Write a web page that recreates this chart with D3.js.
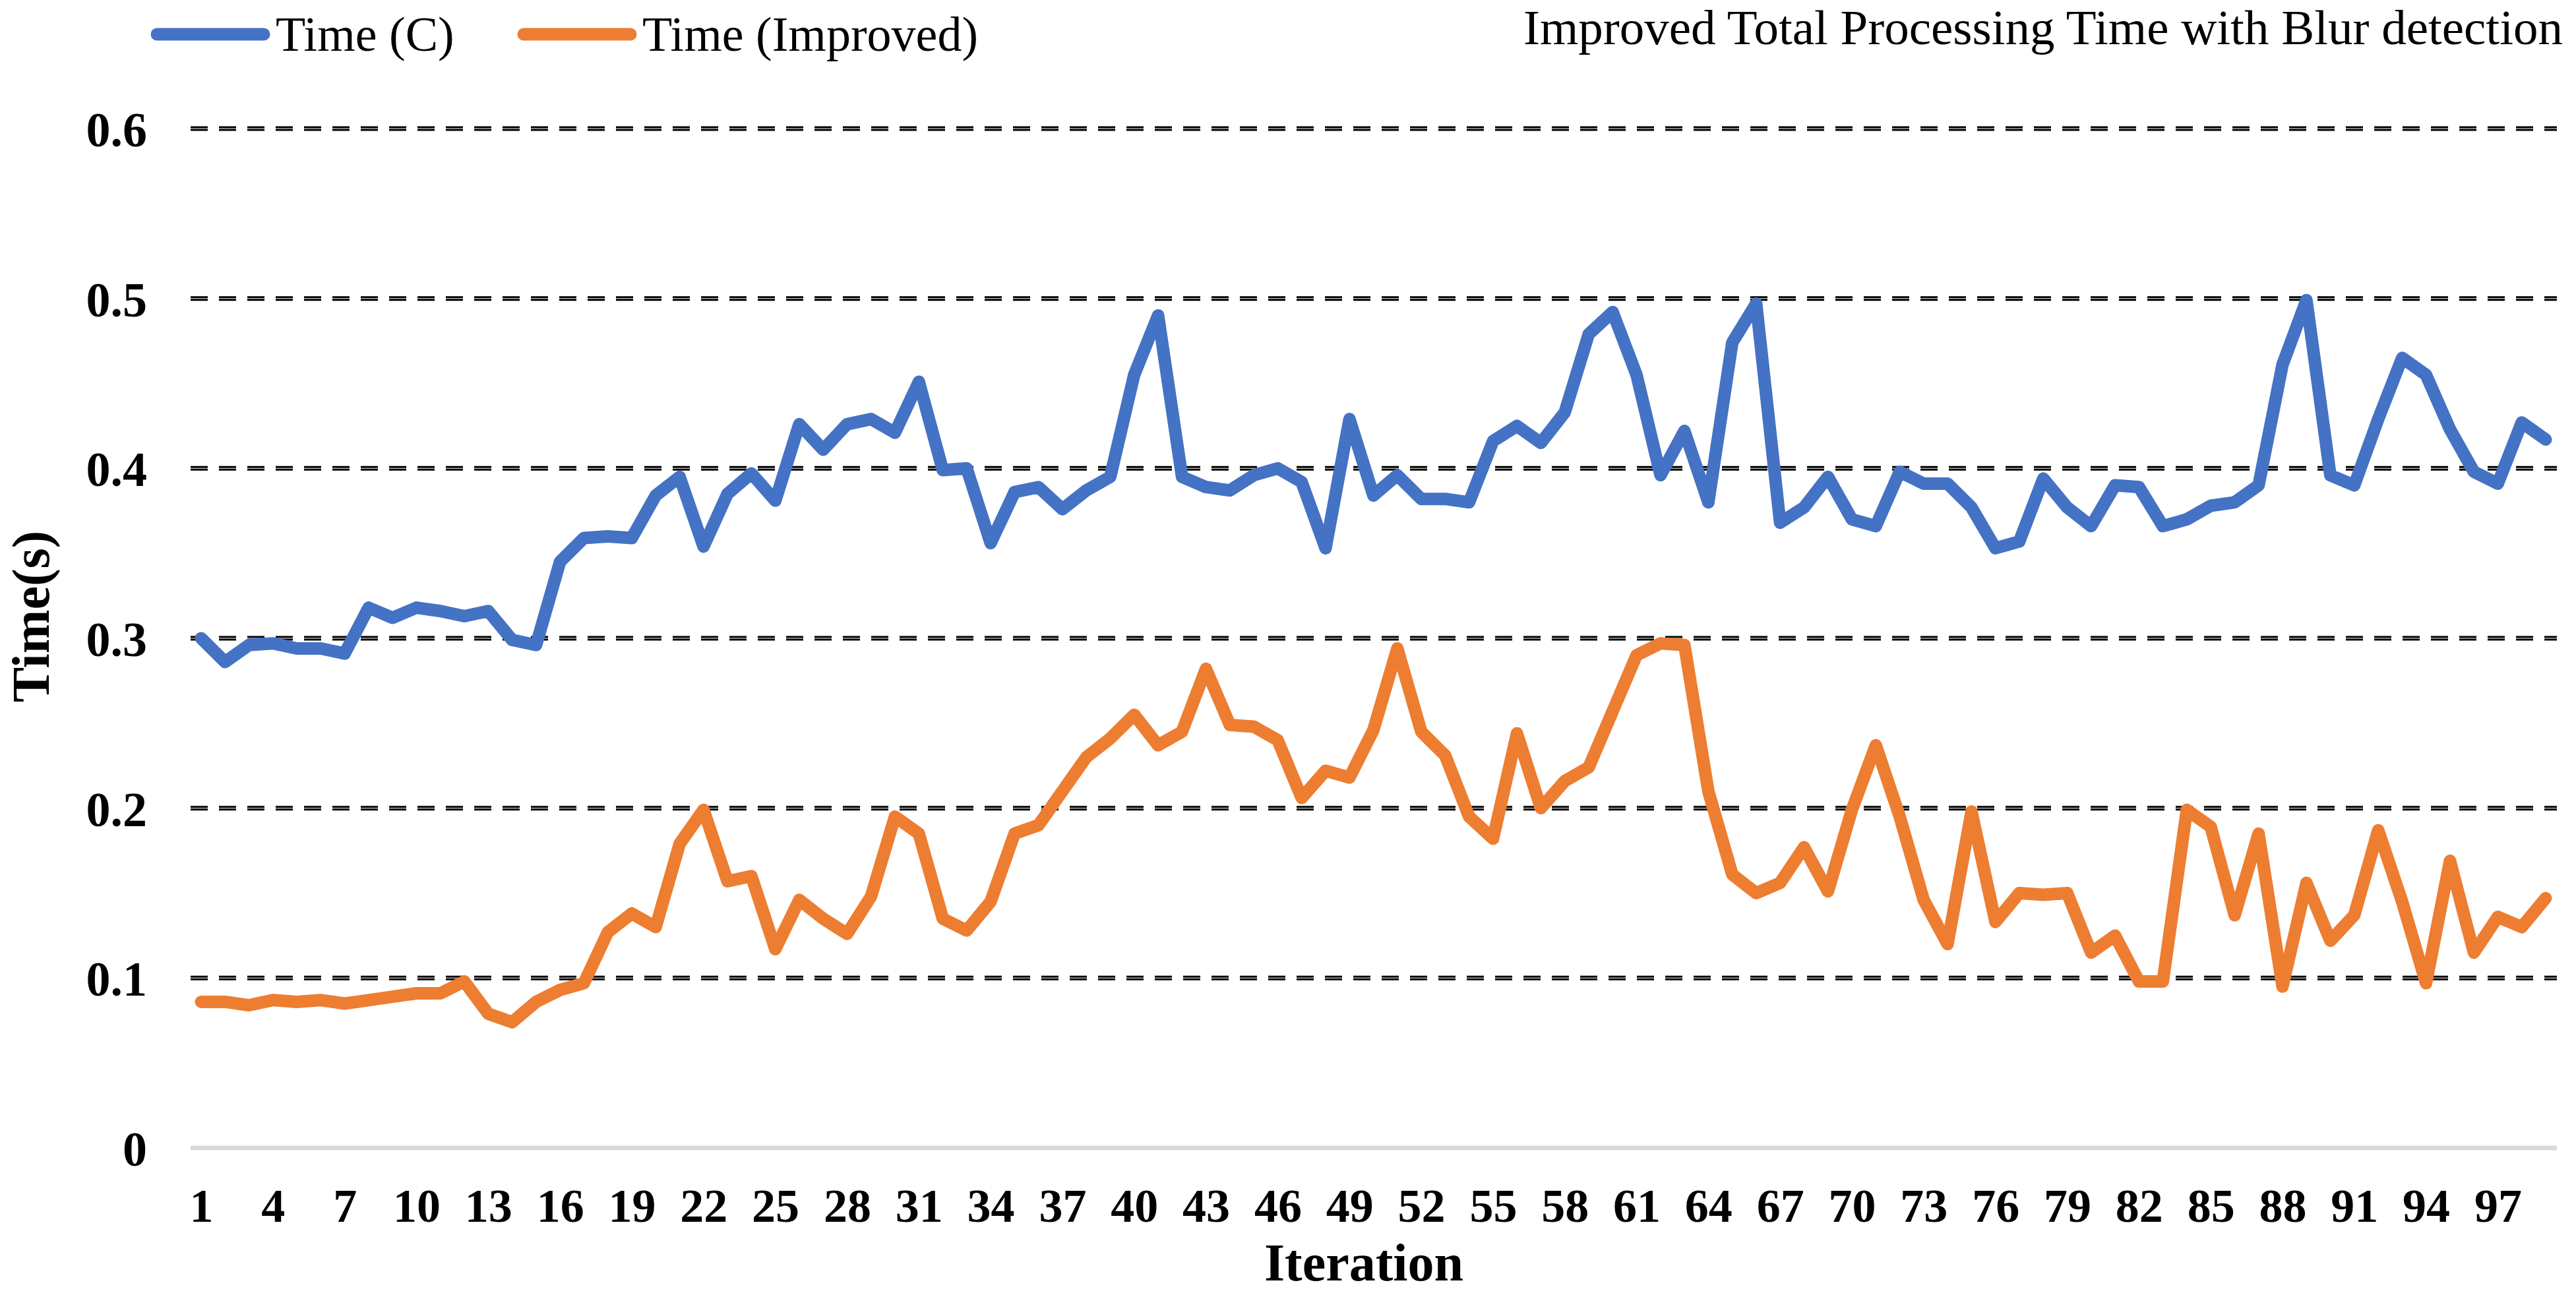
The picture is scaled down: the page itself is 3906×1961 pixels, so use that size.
<!DOCTYPE html>
<html>
<head>
<meta charset="utf-8">
<script src="https://cdnjs.cloudflare.com/ajax/libs/d3/7.8.5/d3.min.js"></script>
<style>
    html, body { margin: 0; padding: 0; background: #fff; }
    svg { display: block; font-family: 'Liberation Serif', 'Times New Roman', serif; }
</style>
</head>
<body>
<div id="chart"></div>
<script>
'use strict';

// data
var iterations = d3.range(1, 100);

var timeC = [
    0.300, 0.286, 0.296, 0.297, 0.294, 0.294, 0.291, 0.318, 0.312, 0.318,
    0.316, 0.313, 0.316, 0.299, 0.296, 0.345, 0.359, 0.360, 0.359, 0.384,
    0.395, 0.354, 0.385, 0.397, 0.381, 0.426, 0.411, 0.426, 0.429, 0.421,
    0.451, 0.399, 0.400, 0.356, 0.386, 0.389, 0.376, 0.387, 0.395, 0.455,
    0.490, 0.395, 0.389, 0.387, 0.396, 0.400, 0.392, 0.353, 0.429, 0.384,
    0.396, 0.382, 0.382, 0.380, 0.416, 0.425, 0.415, 0.433, 0.479, 0.492,
    0.455, 0.396, 0.422, 0.380, 0.474, 0.497, 0.368, 0.377, 0.395, 0.370,
    0.366, 0.398, 0.391, 0.391, 0.377, 0.353, 0.357, 0.394, 0.377, 0.366,
    0.390, 0.389, 0.366, 0.370, 0.378, 0.380, 0.390, 0.461, 0.499, 0.396,
    0.390, 0.429, 0.465, 0.455, 0.423, 0.398, 0.391, 0.427, 0.417
];

var timeImproved = [
    0.086, 0.086, 0.084, 0.087, 0.086, 0.087, 0.085, 0.087, 0.089, 0.091,
    0.091, 0.098, 0.079, 0.074, 0.086, 0.093, 0.097, 0.127, 0.138, 0.130,
    0.179, 0.199, 0.157, 0.160, 0.117, 0.146, 0.135, 0.126, 0.148, 0.195,
    0.185, 0.135, 0.128, 0.145, 0.185, 0.190, 0.210, 0.230, 0.241, 0.255,
    0.237, 0.245, 0.282, 0.249, 0.248, 0.240, 0.206, 0.222, 0.218, 0.246,
    0.294, 0.245, 0.231, 0.195, 0.182, 0.244, 0.200, 0.216, 0.224, 0.257,
    0.290, 0.297, 0.296, 0.210, 0.161, 0.150, 0.156, 0.177, 0.151, 0.199,
    0.237, 0.195, 0.146, 0.120, 0.198, 0.133, 0.150, 0.149, 0.150, 0.115,
    0.125, 0.098, 0.098, 0.199, 0.189, 0.137, 0.185, 0.095, 0.156, 0.122,
    0.137, 0.187, 0.145, 0.097, 0.169, 0.115, 0.136, 0.130, 0.147
];

var yTicks = [0, 0.1, 0.2, 0.3, 0.4, 0.5, 0.6];
var xTicks = d3.range(1, 100, 3);

var seriesNames = ['Time (C)', 'Time (Improved)'];
var seriesColors = ['#4472C4', '#ED7D31'];

var chartTitle = 'Improved Total Processing Time with Blur detection',
    xTitle = 'Iteration',
    yTitle = 'Time(s)';

var W = 3906, H = 1961;

var svg, x, y;

function setup(){
    svg = d3.select('#chart').append('svg')
        .attr('width', W)
        .attr('height', H);

    x = d3.scaleLinear().domain([1, 99]).range([305, 3860]);
    y = d3.scaleLinear().domain([0, 0.6]).range([1741, 195]);

    draw();
}

function draw(){
    var gGrid = svg.append('g'),
        gLines = svg.append('g'),
        gText = svg.append('g');
    var gridLeft = 289, gridRight = 3877;

    // dashed gridlines (drawn as a thin double line like the original)
    yTicks.filter(function(d){ return d > 0; }).forEach(function(t){
        [-2, 2].forEach(function(off){
            gGrid.append('line')
                .attr('x1', gridLeft).attr('x2', gridRight)
                .attr('y1', y(t) + off).attr('y2', y(t) + off)
                .style('stroke', '#000')
                .style('stroke-width', 3)
                .style('stroke-dasharray', '26,17');
        });
    });

    // zero axis
    gGrid.append('line')
        .attr('x1', gridLeft).attr('x2', gridRight)
        .attr('y1', y(0)).attr('y2', y(0))
        .style('stroke', '#D9D9D9')
        .style('stroke-width', 7);

    // y axis labels
    var yAxis = d3.axisLeft(y).tickValues(yTicks).tickSize(0).tickPadding(0)
        .tickFormat(function(d){ return d === 0 ? '0' : d3.format('.1f')(d); });
    var gy = gText.append('g').attr('transform', 'translate(223,0)').call(yAxis);
    gy.select('.domain').remove();
    gy.selectAll('text')
        .attr('dy', '0.36em')
        .style('font-family', "'Liberation Serif', serif")
        .style('font-weight', 'bold')
        .style('font-size', '74px')
        .style('fill', '#000');

    // x axis labels
    var xAxis = d3.axisBottom(x).tickValues(xTicks).tickSize(0).tickPadding(0)
        .tickFormat(d3.format('d'));
    var gx = gText.append('g').attr('transform', 'translate(0,1853)').call(xAxis);
    gx.select('.domain').remove();
    gx.selectAll('text')
        .attr('dy', 0)
        .style('font-family', "'Liberation Serif', serif")
        .style('font-weight', 'bold')
        .style('font-size', '72px')
        .style('fill', '#000');

    // series
    var line = d3.line()
        .x(function(d, i){ return x(iterations[i]); })
        .y(function(d){ return y(d); });

    [timeC, timeImproved].forEach(function(values, k){
        gLines.append('path')
            .datum(values)
            .attr('d', line)
            .style('fill', 'none')
            .style('stroke', seriesColors[k])
            .style('stroke-width', 19)
            .style('stroke-linejoin', 'round')
            .style('stroke-linecap', 'round');
    });

    // axis titles
    gText.append('text')
        .attr('x', 2068).attr('y', 1942)
        .attr('text-anchor', 'middle')
        .style('font-weight', 'bold')
        .style('font-size', '80px')
        .text(xTitle);

    gText.append('text')
        .attr('transform', 'translate(74,935) rotate(-90)')
        .attr('text-anchor', 'middle')
        .style('font-weight', 'bold')
        .style('font-size', '80px')
        .text(yTitle);

    // title
    gText.append('text')
        .attr('x', 3886).attr('y', 67)
        .attr('text-anchor', 'end')
        .attr('textLength', 1576)
        .attr('lengthAdjust', 'spacingAndGlyphs')
        .style('font-size', '73px')
        .text(chartTitle);

    // legend
    var legendX = [238, 794];
    seriesNames.forEach(function(name, k){
        gText.append('line')
            .attr('x1', legendX[k]).attr('x2', legendX[k] + 162)
            .attr('y1', 52).attr('y2', 52)
            .style('stroke', seriesColors[k])
            .style('stroke-width', 19)
            .style('stroke-linecap', 'round');
        gText.append('text')
            .attr('x', legendX[k] + 180).attr('y', 77)
            .style('font-size', '74px')
            .text(name);
    });
}

setup();
</script>
</body>
</html>
